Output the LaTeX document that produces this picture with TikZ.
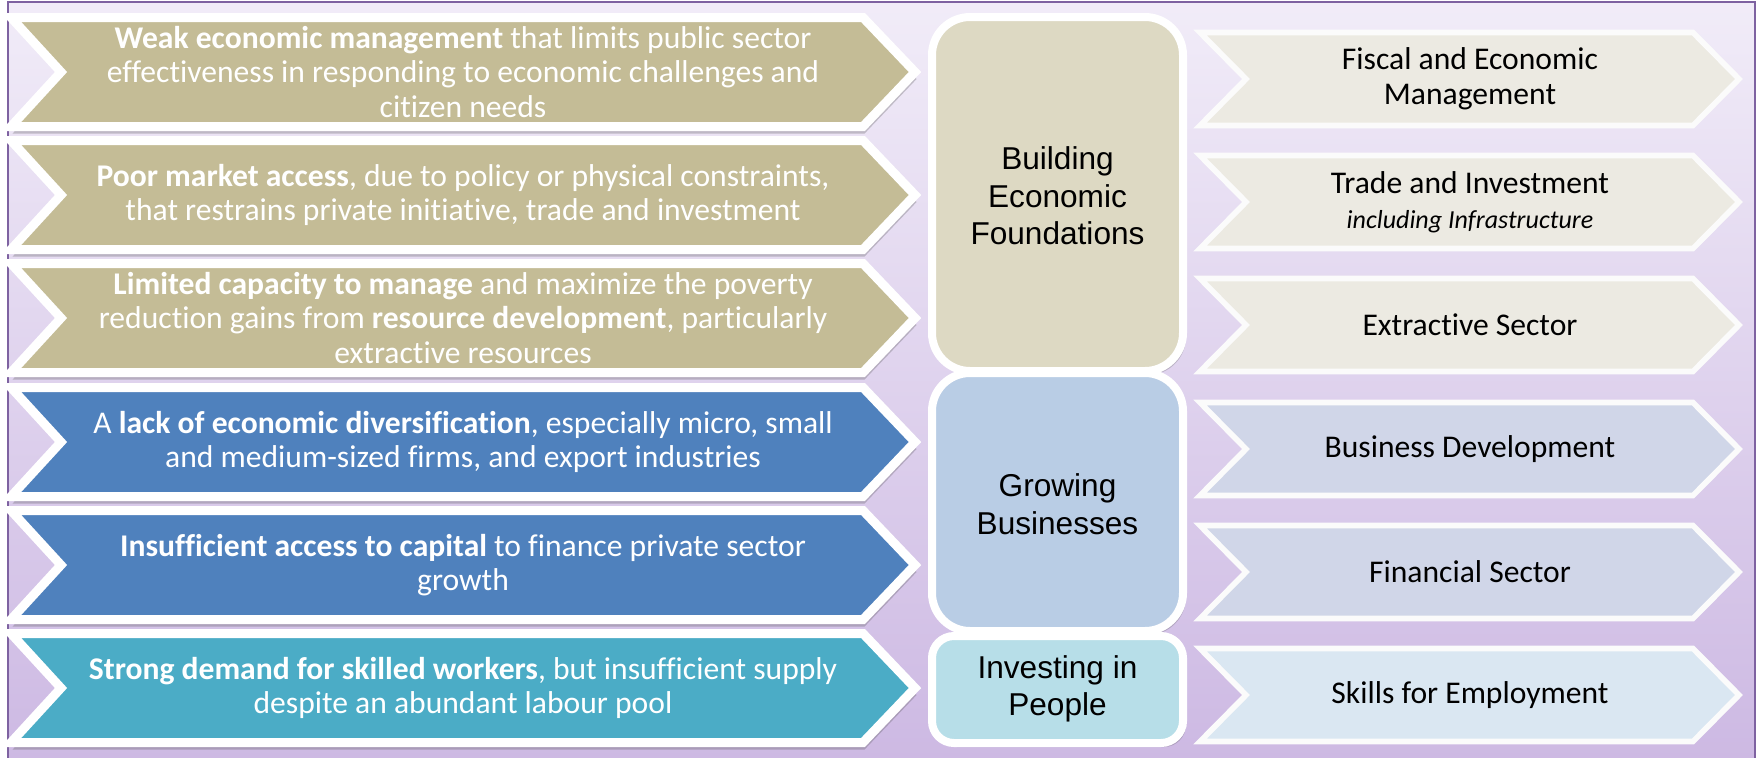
\documentclass[tikz,border=0pt]{standalone}
\usepackage{fontspec}
\setmainfont{Carlito}[Ligatures=NoCommon]
\newfontfamily\arialfont{Liberation Sans}
\usetikzlibrary{shadows}

\definecolor{bgtop}{HTML}{F1ECF8}
\definecolor{bgbot}{HTML}{CDB9E3}
\definecolor{framecol}{HTML}{7E62A1}
\definecolor{tanA}{HTML}{C4BC96}
\definecolor{blueA}{HTML}{4F81BD}
\definecolor{tealA}{HTML}{4BACC6}
\definecolor{tanB}{HTML}{DDD9C3}
\definecolor{blueB}{HTML}{B9CDE5}
\definecolor{tealB}{HTML}{B7DEE8}
\definecolor{tanC}{HTML}{ECEAE2}
\definecolor{blueC}{HTML}{D0D6E8}
\definecolor{tealC}{HTML}{DAE7F2}

% left chevron: name, centre y, fill, text
\newcommand\lchev[4]{%
  \path[leftchev, fill=#3] (11,{#2-54.5}) -- (863,{#2-54.5}) -- (915,#2)
       -- (863,{#2+54.5}) -- (11,{#2+54.5}) -- (61,#2) -- cycle;
  \node[lefttext] (#1) at (463,#2) {#4};
}
% right chevron: name, centre y, fill, text
\newcommand\rchev[4]{%
  \path[rightchev, fill=#3] (1200,{#2-46.5}) -- (1693,{#2-46.5}) -- (1739,#2)
       -- (1693,{#2+46.5}) -- (1200,{#2+46.5}) -- (1246,#2) -- cycle;
  \node[righttext] (#1) at (1470,#2) {#4};
}

\begin{document}
\begin{tikzpicture}[x=0.5pt,y=-0.5pt,
  leftchev/.style={draw=white, line width=4.5pt, miter limit=20,
    drop shadow={shadow xshift=0.8pt, shadow yshift=-3.5pt, opacity=0.28, fill=black!70}},
  rightchev/.style={draw=white!97!gray, line width=2.8pt, miter limit=20},
  pillar/.style={draw=white, line width=4pt,
    drop shadow={shadow xshift=1.5pt, shadow yshift=-2pt, opacity=0.25, fill=black!70}},
  lefttext/.style={text=white, align=center, inner sep=0pt,
    font=\fontsize{15.8}{17.3}\selectfont},
  righttext/.style={text=black, align=center, inner sep=0pt,
    font=\fontsize{15.8}{17.5}\selectfont},
  pillartext/.style={text=black, align=center, inner sep=0pt,
    font=\arialfont\fontsize{15.8}{18.8}\selectfont},
  frame/.style={draw=framecol, line width=1.3pt}
]
\useasboundingbox (0,0) rectangle (1758,757);

% backdrop
\shade[top color=bgtop, bottom color=bgbot] (8,2) rectangle (1755,760);
\draw[frame] (8,770) -- (8,2) -- (1755,2) -- (1755,770);

% challenges
\lchev{c1}{72}{tanA}{\textbf{Weak economic management} that limits public sector\\
  effectiveness in responding to economic challenges and\\ citizen needs}
\lchev{c2}{195}{tanA}{\textbf{Poor market access}, due to policy or physical constraints,\\
  that restrains private initiative, trade and investment}
\lchev{c3}{318}{tanA}{\textbf{Limited capacity to manage} and maximize the poverty\\
  reduction gains from \textbf{resource development}, particularly\\ extractive resources}
\lchev{c4}{442}{blueA}{A \textbf{lack of economic diversification}, especially micro, small\\
  and medium-sized firms, and export industries}
\lchev{c5}{565}{blueA}{\textbf{Insufficient access to capital} to finance private sector\\ growth}
\lchev{c6}{688}{tealA}{\textbf{Strong demand for skilled workers}, but insufficient supply\\
  despite an abundant labour pool}

% pillars
\path[pillar, fill=tanB, rounded corners=19pt] (932,17) rectangle (1183,371);
\node[pillartext] (p1) at (1057.5,196) {Building\\Economic\\Foundations};
\path[pillar, fill=blueB, rounded corners=19pt] (932,373) rectangle (1183,631);
\node[pillartext] (p2) at (1057.5,504) {Growing\\Businesses};
\path[pillar, fill=tealB, rounded corners=11pt] (932,636) rectangle (1183,743);
\node[pillartext] (p3) at (1057.5,689) {Investing in\\People};

% programme areas
\rchev{a1}{79}{tanC}{Fiscal and Economic\\Management}
\rchev{a2}{202}{tanC}{Trade and Investment\\{\itshape\fontsize{13}{15}\selectfont including Infrastructure}}
\rchev{a3}{325}{tanC}{Extractive Sector}
\rchev{a4}{449}{blueC}{Business Development}
\rchev{a5}{572}{blueC}{Financial Sector}
\rchev{a6}{695}{tealC}{Skills for Employment}
\end{tikzpicture}
\end{document}
